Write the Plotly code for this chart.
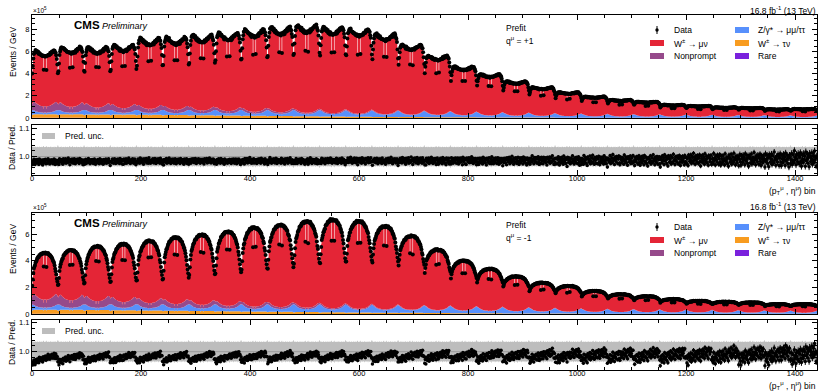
import numpy as np
import plotly.graph_objects as go

N_ETA = 48
N_PT = 30
NBINS = N_ETA * N_PT

# ---------------- data (units: 1e5 events / GeV) ----------------
# hump top (prediction) per pT bin
peak_plus = [6.2, 6.5, 6.5, 6.7, 7.3, 7.4, 7.6, 7.8, 8.1, 8.3, 8.5, 8.3, 8.1, 7.7, 6.7,
             5.7, 4.7, 4.0, 3.35, 2.8, 2.35, 1.95, 1.65, 1.48, 1.2, 1.1, 0.97, 0.92, 0.8, 0.82]
peak_minus = [4.7, 4.9, 5.2, 5.36, 5.6, 5.86, 6.06, 6.3, 6.6, 6.8, 7.07, 7.2, 7.07, 6.7, 5.94,
              4.9, 4.06, 3.43, 2.86, 2.38, 2.13, 1.75, 1.5, 1.35, 1.13, 1.0, 0.93, 0.88, 0.75, 0.75]

# eta shape of each hump (relative to top)
eta_shape_plus = [0.66, 0.78, 0.88, 0.94, 0.97, 0.99, 1.0, 0.99, 1.0, 0.98, 0.97, 0.98, 0.96, 0.95,
                  0.96, 0.94, 0.93, 0.94, 0.92, 0.93, 0.92, 0.92, 0.92, 0.91, 0.91, 0.92, 0.92, 0.92,
                  0.93, 0.92, 0.94, 0.93, 0.95, 0.96, 0.95, 0.97, 0.98, 0.97, 0.99, 1.0, 0.99, 1.0,
                  0.98, 0.96, 0.93, 0.88, 0.79, 0.67]
eta_shape_minus = [0.47, 0.58, 0.68, 0.75, 0.79, 0.82, 0.85, 0.87, 0.89, 0.91, 0.93, 0.94, 0.95, 0.96,
                   0.97, 0.98, 0.985, 0.99, 0.99, 1.0, 1.0, 1.0, 1.0, 1.0, 1.0, 0.995, 0.99, 0.99,
                   0.99, 0.985, 0.98, 0.97, 0.96, 0.95, 0.94, 0.93, 0.91, 0.89, 0.87, 0.85, 0.82, 0.79,
                   0.74, 0.69, 0.64, 0.58, 0.53, 0.48]
# how strongly the eta shape shows per pT bin
shape_depth_plus = [1.0, 1.0, 1.0, 1.0, 1.0, 1.0, 1.0, 0.95, 0.95, 0.9, 0.9, 0.9, 0.85, 0.85, 0.8,
                    0.8, 0.8, 0.75, 0.75, 0.7, 0.65, 0.6, 0.6, 0.55, 0.55, 0.5, 0.5, 0.5, 0.5, 0.5]
shape_depth_minus = [1.0, 1.0, 1.0, 1.0, 1.0, 1.0, 0.95, 0.95, 0.9, 0.9, 0.85, 0.85, 0.8, 0.75, 0.7,
                     0.65, 0.6, 0.55, 0.5, 0.5, 0.45, 0.45, 0.4, 0.4, 0.4, 0.4, 0.35, 0.35, 0.35, 0.35]
# detector dips inside each hump (|eta| ~ 0.25)
eta_eff = [1.0] * 21 + [0.78] + [1.0] * 4 + [0.78] + [1.0] * 21

# backgrounds, level per pT bin
tau_plus = [0.33, 0.32, 0.31, 0.30, 0.28, 0.26, 0.24, 0.22, 0.19, 0.17, 0.15, 0.13, 0.11, 0.09, 0.08,
            0.07, 0.06, 0.05, 0.04, 0.035, 0.03, 0.025, 0.02, 0.02, 0.015, 0.015, 0.01, 0.01, 0.01, 0.01]
tau_minus = [0.31, 0.30, 0.29, 0.28, 0.26, 0.24, 0.22, 0.20, 0.18, 0.16, 0.14, 0.12, 0.10, 0.09, 0.08,
             0.07, 0.06, 0.05, 0.04, 0.035, 0.03, 0.025, 0.02, 0.02, 0.015, 0.015, 0.01, 0.01, 0.01, 0.01]
zll_plus = [0.25, 0.26, 0.27, 0.28, 0.29, 0.30, 0.31, 0.32, 0.33, 0.34, 0.35, 0.35, 0.35, 0.34, 0.33,
            0.32, 0.30, 0.28, 0.26, 0.24, 0.22, 0.20, 0.19, 0.18, 0.17, 0.16, 0.15, 0.14, 0.13, 0.12]
zll_minus = [0.26, 0.27, 0.28, 0.29, 0.30, 0.31, 0.32, 0.33, 0.34, 0.35, 0.36, 0.36, 0.36, 0.35, 0.34,
             0.33, 0.31, 0.29, 0.27, 0.25, 0.23, 0.21, 0.20, 0.19, 0.18, 0.17, 0.16, 0.15, 0.14, 0.13]
nonprompt_plus = [0.75, 0.70, 0.62, 0.55, 0.48, 0.40, 0.33, 0.27, 0.22, 0.18, 0.14, 0.11, 0.09, 0.07, 0.05,
                  0.04, 0.03, 0.025, 0.02, 0.02, 0.015, 0.015, 0.01, 0.01, 0.01, 0.01, 0.01, 0.01, 0.01, 0.01]
nonprompt_minus = [0.80, 0.74, 0.66, 0.58, 0.50, 0.42, 0.35, 0.28, 0.23, 0.19, 0.15, 0.12, 0.09, 0.07, 0.05,
                   0.04, 0.03, 0.025, 0.02, 0.02, 0.015, 0.015, 0.01, 0.01, 0.01, 0.01, 0.01, 0.01, 0.01, 0.01]
rare_level = [0.012, 0.012, 0.011, 0.011, 0.010, 0.010, 0.009, 0.009, 0.008, 0.008, 0.007, 0.007, 0.006,
              0.006, 0.005, 0.005, 0.004, 0.004, 0.004, 0.003, 0.003, 0.003, 0.003, 0.002, 0.002, 0.002,
              0.002, 0.002, 0.002, 0.002]
# eta shapes of backgrounds
tau_eta = [0.8, 0.9, 0.95, 1.0, 1.0, 1.0, 1.0, 1.0, 1.0, 1.0, 1.0, 1.0, 1.0, 1.0, 1.0, 1.0, 1.0, 1.0, 1.0,
           1.0, 1.0, 0.8, 1.0, 1.0, 1.0, 1.0, 0.8, 1.0, 1.0, 1.0, 1.0, 1.0, 1.0, 1.0, 1.0, 1.0, 1.0, 1.0,
           1.0, 1.0, 1.0, 1.0, 1.0, 1.0, 1.0, 0.95, 0.9, 0.8]
zll_eta = [1.7, 1.6, 1.5, 1.4, 1.3, 1.2, 1.1, 1.0, 0.95, 0.9, 0.85, 0.8, 0.75, 0.72, 0.7, 0.68, 0.66, 0.65,
           0.64, 0.63, 0.62, 0.5, 0.62, 0.62, 0.62, 0.62, 0.5, 0.62, 0.63, 0.64, 0.65, 0.66, 0.68, 0.7,
           0.72, 0.75, 0.8, 0.85, 0.9, 0.95, 1.0, 1.1, 1.2, 1.3, 1.4, 1.5, 1.6, 1.7]
nonprompt_eta = [0.75, 0.85, 0.95, 1.0, 1.05, 1.05, 1.0, 1.0, 0.95, 0.95, 0.9, 0.9, 0.85, 0.85, 0.8, 0.8,
                 0.78, 0.78, 0.76, 0.76, 0.75, 0.6, 0.75, 0.75, 0.75, 0.75, 0.6, 0.75, 0.76, 0.76, 0.78,
                 0.78, 0.8, 0.8, 0.85, 0.85, 0.9, 0.9, 0.95, 0.95, 1.0, 1.0, 1.05, 1.05, 1.0, 0.95, 0.85, 0.75]

# data / prediction
ratio_base_plus = [0.982, 0.984, 0.983, 0.984, 0.985, 0.984, 0.985, 0.984, 0.985, 0.985, 0.984, 0.985,
                   0.986, 0.985, 0.986, 0.985, 0.986, 0.985, 0.986, 0.987, 0.986, 0.987, 0.988, 0.987,
                   0.988, 0.990, 0.989, 0.990, 0.990, 0.992]
ratio_base_minus = [0.975, 0.977, 0.978, 0.979, 0.980, 0.980, 0.981, 0.981, 0.982, 0.982, 0.982, 0.983,
                    0.983, 0.983, 0.984, 0.984, 0.984, 0.985, 0.985, 0.985, 0.985, 0.986, 0.986, 0.986,
                    0.986, 0.987, 0.987, 0.987, 0.988, 0.988]
ratio_eta_plus = [-0.006, -0.003, -0.001, 0.0, 0.001, 0.0, 0.001, 0.0, 0.0, 0.001, 0.0, 0.0, -0.001, 0.0,
                  0.0, 0.001, 0.0, 0.0, 0.0, -0.001, 0.0, -0.004, 0.0, 0.0, 0.0, 0.0, -0.004, 0.0, 0.0,
                  0.0, 0.001, 0.0, 0.0, 0.0, 0.001, 0.0, 0.0, -0.001, 0.0, 0.0, 0.001, 0.0, 0.0, 0.0,
                  -0.001, -0.002, -0.003, -0.006]
ratio_eta_minus = [-0.016, -0.014, -0.013, -0.012, -0.011, -0.010, -0.009, -0.008, -0.008, -0.007, -0.006,
                   -0.005, -0.005, -0.004, -0.003, -0.003, -0.002, -0.001, -0.001, 0.0, 0.0, -0.003, 0.001,
                   0.002, 0.002, 0.003, 0.0, 0.004, 0.004, 0.005, 0.006, 0.006, 0.007, 0.007, 0.008, 0.008,
                   0.009, 0.009, 0.010, 0.010, 0.011, 0.011, 0.011, 0.012, 0.010, 0.006, 0.0, -0.008]
ratio_scatter = [0.004, -0.006, 0.002, 0.007, -0.003, -0.008, 0.005, 0.001, -0.004, 0.006, -0.001, 0.003,
                 -0.007, 0.008, -0.002, 0.000, 0.005, -0.005, 0.002, -0.009, 0.006, 0.003, -0.003, 0.001,
                 0.007, -0.006, -0.002, 0.004, -0.004, 0.009, -0.001, 0.002, -0.007, 0.005, 0.000, -0.003,
                 0.006]
scatter_amp = [1.2, 1.2, 1.2, 1.2, 1.2, 1.2, 1.2, 1.2, 1.2, 1.2, 1.2, 1.2, 1.3, 1.3, 1.4, 1.5, 1.5, 1.6,
               1.7, 1.8, 1.9, 2.0, 2.1, 2.2, 2.3, 2.4, 2.6, 2.7, 2.9, 3.1]
data_rel_err = [0.002, 0.002, 0.002, 0.002, 0.002, 0.002, 0.002, 0.002, 0.002, 0.002, 0.002, 0.002, 0.002,
                0.002, 0.0025, 0.003, 0.003, 0.0035, 0.004, 0.0045, 0.005, 0.0055, 0.006, 0.0065, 0.007,
                0.008, 0.009, 0.010, 0.011, 0.012]
pred_unc_eta = [0.036, 0.034, 0.033, 0.035, 0.034, 0.033, 0.036, 0.034, 0.033, 0.034, 0.035, 0.033, 0.034,
                0.036, 0.033, 0.034, 0.034, 0.035, 0.033, 0.034, 0.036, 0.038, 0.034, 0.033, 0.034, 0.035,
                0.038, 0.034, 0.033, 0.035, 0.034, 0.033, 0.034, 0.036, 0.034, 0.033, 0.035, 0.034, 0.033,
                0.034, 0.036, 0.033, 0.034, 0.035, 0.033, 0.034, 0.036, 0.040]

tick_vals_x = [0, 200, 400, 600, 800, 1000, 1200, 1400]

# ---------------- colours ----------------
C_SIG = "#e42536"
C_NP = "#964a8b"
C_Z = "#5790fc"
C_TAU = "#f89c20"
C_RARE = "#7a21dd"
C_UNC = "#bdbdbd"
FONT = "Liberation Sans"

# ---------------- layout geometry (pixels) ----------------
W, H = 821, 391
ML, MR, MT, MB = 32, 4, 15, 21
PW, PH = W - ML - MR, H - MT - MB


def px(x):
    return (x - ML) / PW


def py(y):
    return (H - MB - y) / PH


pt_idx = np.repeat(np.arange(N_PT), N_ETA)
eta_idx = np.tile(np.arange(N_ETA), N_PT)
edges = np.arange(NBINS + 1)
centers = np.arange(NBINS) + 0.5


def build(peak, shape, depth, tau, zll, npr, rbase, reta):
    peak = np.array(peak)[pt_idx]
    shp = np.array(shape)[eta_idx]
    dep = np.array(depth)[pt_idx]
    eff = np.array(eta_eff)[eta_idx]
    total = peak * (1 - dep * (1 - shp)) * eff
    b_rare = np.array(rare_level)[pt_idx]
    b_tau = np.array(tau)[pt_idx] * np.array(tau_eta)[eta_idx]
    b_z = np.array(zll)[pt_idx] * np.array(zll_eta)[eta_idx]
    b_np = np.array(npr)[pt_idx] * np.array(nonprompt_eta)[eta_idx]
    sig = total - b_rare - b_tau - b_z - b_np
    ratio = (np.array(rbase)[pt_idx] + np.array(reta)[eta_idx]
             + np.resize(np.array(ratio_scatter), NBINS) * np.array(scatter_amp)[pt_idx])
    rerr = np.array(data_rel_err)[pt_idx]
    unc = np.array(pred_unc_eta)[eta_idx]
    return dict(total=total, stack=[("Rare", b_rare, C_RARE), ("tau", b_tau, C_TAU),
                                    ("Z", b_z, C_Z), ("NP", b_np, C_NP), ("Sig", sig, C_SIG)],
                ratio=ratio, rerr=rerr, unc=unc)


panels = [
    (build(peak_plus, eta_shape_plus, shape_depth_plus, tau_plus, zll_plus, nonprompt_plus,
           ratio_base_plus, ratio_eta_plus), "+1", ("x", "y"), ("x2", "y2")),
    (build(peak_minus, eta_shape_minus, shape_depth_minus, tau_minus, zll_minus, nonprompt_minus,
           ratio_base_minus, ratio_eta_minus), "-1", ("x3", "y3"), ("x4", "y4")),
]

fig = go.Figure()

for pdata, q, (xm, ym), (xr, yr) in panels:
    cum = np.zeros(NBINS)
    for i, (name, vals, col) in enumerate(pdata["stack"]):
        cum = cum + vals
        fig.add_trace(go.Scatter(
            x=edges, y=np.append(cum, cum[-1]), mode="lines", line=dict(shape="hv", width=0, color=col),
            fill="tozeroy" if i == 0 else "tonexty", fillcolor=col, xaxis=xm, yaxis=ym,
            showlegend=False, hoverinfo="skip"))
    data = pdata["total"] * pdata["ratio"]
    fig.add_trace(go.Scatter(
        x=centers, y=data, mode="markers", marker=dict(color="black", size=4),
        error_y=dict(type="data", array=data * pdata["rerr"], color="black", thickness=1, width=0),
        xaxis=xm, yaxis=ym, showlegend=False, hoverinfo="skip"))
    # ratio panel: uncertainty band
    up = 1 + pdata["unc"]
    dn = 1 - pdata["unc"]
    fig.add_trace(go.Scatter(x=edges, y=np.append(dn, dn[-1]), mode="lines",
                             line=dict(shape="hv", width=0, color=C_UNC), xaxis=xr, yaxis=yr,
                             showlegend=False, hoverinfo="skip"))
    fig.add_trace(go.Scatter(x=edges, y=np.append(up, up[-1]), mode="lines",
                             line=dict(shape="hv", width=0, color=C_UNC), fill="tonexty",
                             fillcolor=C_UNC, xaxis=xr, yaxis=yr, showlegend=False, hoverinfo="skip"))
    fig.add_trace(go.Scatter(x=[0, NBINS], y=[1, 1], mode="lines", line=dict(color="#999999", width=1),
                             xaxis=xr, yaxis=yr, showlegend=False, hoverinfo="skip"))
    fig.add_trace(go.Scatter(
        x=centers, y=pdata["ratio"], mode="markers", marker=dict(color="black", size=3.5),
        error_y=dict(type="data", array=pdata["rerr"], color="black", thickness=1, width=0),
        xaxis=xr, yaxis=yr, showlegend=False, hoverinfo="skip"))

# axes domains (from pixel geometry)
dom_main1 = [py(118), py(15)]
dom_rat1 = [py(175), py(125)]
dom_main2 = [py(314), py(213)]
dom_rat2 = [py(370), py(320)]

axis_common = dict(showline=True, linecolor="black", linewidth=1, mirror="allticks", ticks="inside",
                   tickcolor="black", ticklen=5, showgrid=False, zeroline=False, automargin=False,
                   tickfont=dict(family=FONT, size=7.5, color="black"))
xcommon = dict(axis_common, range=[0, NBINS], tickvals=tick_vals_x,
               minor=dict(dtick=50, tick0=0, ticks="inside", ticklen=3, tickcolor="black"))

fig.update_layout(
    xaxis=dict(xcommon, domain=[0, 1], anchor="y", showticklabels=False),
    yaxis=dict(axis_common, domain=dom_main1, anchor="x", range=[0, 9.3], tickvals=[0, 2, 4, 6, 8],
               minor=dict(dtick=0.5, ticks="inside", ticklen=3, tickcolor="black")),
    xaxis2=dict(xcommon, domain=[0, 1], anchor="y2", showticklabels=True, ticklabelstandoff=-4),
    yaxis2=dict(axis_common, domain=dom_rat1, anchor="x2", range=[0.935, 1.112], tickvals=[1.0, 1.1],
                ticktext=["1.0", "1.1"],
                minor=dict(dtick=0.02, tick0=0.9, ticks="inside", ticklen=3, tickcolor="black")),
    xaxis3=dict(xcommon, domain=[0, 1], anchor="y3", showticklabels=False),
    yaxis3=dict(axis_common, domain=dom_main2, anchor="x3", range=[0, 7.6], tickvals=[0, 2, 4, 6],
                minor=dict(dtick=0.5, ticks="inside", ticklen=3, tickcolor="black")),
    xaxis4=dict(xcommon, domain=[0, 1], anchor="y4", showticklabels=True, ticklabelstandoff=-4),
    yaxis4=dict(axis_common, domain=dom_rat2, anchor="x4", range=[0.937, 1.109], tickvals=[1.0, 1.1],
                ticktext=["1.0", "1.1"],
                minor=dict(dtick=0.02, tick0=0.9, ticks="inside", ticklen=3, tickcolor="black")),
    width=W, height=H, margin=dict(l=ML, r=MR, t=MT, b=MB, autoexpand=False),
    plot_bgcolor="white", paper_bgcolor="white", showlegend=False,
    font=dict(family=FONT, color="black"),
)

ann = []
shapes = []


def text(x, y, s, size, xanchor="left", yanchor="middle", angle=0, color="black"):
    ann.append(dict(x=px(x), y=py(y), xref="paper", yref="paper", text=s, showarrow=False,
                    xanchor=xanchor, yanchor=yanchor, textangle=angle,
                    font=dict(family=FONT, size=size, color=color)))


def box(x0, y0, x1, y1, col):
    shapes.append(dict(type="rect", xref="paper", yref="paper", x0=px(x0), x1=px(x1), y0=py(y1),
                       y1=py(y0), fillcolor=col, line=dict(width=0)))


legend_items_col1 = [("W<sup>±</sup> → μν", C_SIG), ("Nonprompt", C_NP)]
legend_items_col2 = [("Z/γ* → μμ/ττ", C_Z), ("W<sup>±</sup> → τν", C_TAU), ("Rare", C_RARE)]

for k, (off, roff, q) in enumerate([(0, 0, "+1"), (197, 195, "-1")]):
    text(818, 10 + off, "16.8 fb<sup>-1</sup> (13 TeV)", 8.5, xanchor="right")
    text(31, 10 + off, "×10<sup>5</sup>", 6.5)
    text(72, 25.5 + off, "<b>CMS</b>", 11.5)
    text(100, 26.5 + off, "<i>Preliminary</i>", 9)
    text(504, 28 + off, "Prefit", 8.5)
    text(504, 40 + off, "q<sup>μ</sup> = " + q, 8.5)
    # legend
    shapes.append(dict(type="line", xref="paper", yref="paper", x0=px(657), x1=px(657),
                       y0=py(34 + off), y1=py(26 + off), line=dict(color="black", width=1)))
    shapes.append(dict(type="circle", xref="paper", yref="paper", x0=px(655.3), x1=px(658.7),
                       y0=py(31.7 + off), y1=py(28.3 + off), fillcolor="black", line=dict(width=0)))
    text(671.5, 30 + off, "Data", 8.5)
    for j, (lab, col) in enumerate(legend_items_col1):
        yc = 43 + 13 * j + off
        box(650, yc - 3, 664, yc + 3, col)
        text(671.5, yc, lab, 8.5)
    for j, (lab, col) in enumerate(legend_items_col2):
        yc = 30 + 13 * j + off
        box(735, yc - 3, 749, yc + 3, col)
        text(756, yc, lab, 8.5)
    # axis titles
    text(13, 25 + off, "Events / GeV", 8.5, xanchor="center", yanchor="top", angle=-90)
    text(12, 148 + roff, "Data / Pred.", 8.5, xanchor="center", angle=-90)
    text(818, 190 + roff, "(p<sub>T</sub><sup>μ</sup> , η<sup>μ</sup>) bin", 8.5, xanchor="right")
    # ratio legend
    box(42, 133 + roff, 55, 139 + roff, C_UNC)
    text(62.5, 136 + roff, "Pred. unc.", 8.5)

fig.update_layout(annotations=ann, shapes=shapes)
fig.write_html("out.html", config={"displayModeBar": False},
               post_script="document.body.style.margin='0';document.body.style.overflow='hidden';")
